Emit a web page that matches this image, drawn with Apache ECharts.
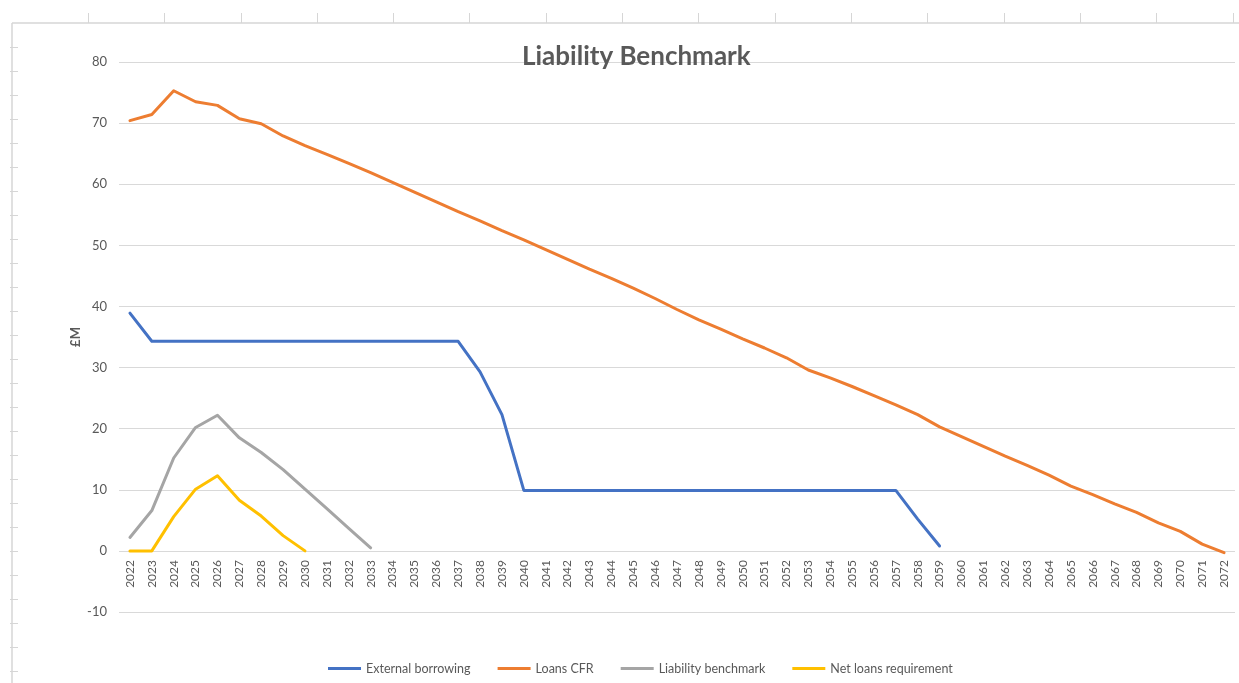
<!DOCTYPE html>
<html>
<head>
<meta charset="utf-8">
<script src="https://cdn.jsdelivr.net/npm/echarts@6/dist/echarts.min.js"></script>
<style>
html,body{margin:0;padding:0;background:#fff;}
#chart{width:1239px;height:683px;}
</style>
</head>
<body>
<div id="chart"></div>
<script>
const years = [];
for (let y = 2022; y <= 2072; y++) years.push(String(y));

const externalBorrowing = [38.9,34.3,34.3,34.3,34.3,34.3,34.3,34.3,34.3,34.3,34.3,34.3,34.3,34.3,34.3,34.3,29.3,22.3,9.9,9.9,9.9,9.9,9.9,9.9,9.9,9.9,9.9,9.9,9.9,9.9,9.9,9.9,9.9,9.9,9.9,9.9,5.2,0.8];
const loansCFR = [70.4,71.4,75.3,73.5,72.9,70.7,69.9,67.9,66.3,64.9,63.4,61.9,60.3,58.7,57.1,55.5,54.0,52.4,50.9,49.3,47.7,46.1,44.6,43.0,41.3,39.5,37.8,36.3,34.7,33.2,31.6,29.6,28.3,26.9,25.4,23.9,22.3,20.3,18.7,17.1,15.5,14.0,12.4,10.6,9.2,7.7,6.3,4.6,3.2,1.1,-0.3];
const liabilityBenchmark = [2.2,6.6,15.2,20.2,22.2,18.5,16.1,13.3,10.1,6.9,3.7,0.5];
const netLoansRequirement = [0,0,5.6,10.1,12.3,8.3,5.7,2.5,0];

const yTicks = [-10,0,10,20,30,40,50,60,70,80];

const seriesNames = ['External borrowing','Loans CFR','Liability benchmark','Net loans requirement'];
const seriesColors = ['#4472C4','#ED7D31','#A5A5A5','#FFC000'];
const seriesData = [externalBorrowing, loansCFR, liabilityBenchmark, netLoansRequirement];

// Excel sheet background decorations
const deco = [];
const gridColor = '#d6d6d6';
deco.push({type:'line', shape:{x1:12,y1:23,x2:12,y2:683}, style:{stroke:gridColor,lineWidth:1.5}, silent:true});
deco.push({type:'line', shape:{x1:12,y1:23,x2:1239,y2:23}, style:{stroke:gridColor,lineWidth:1.5}, silent:true});
for (let k = 1; k <= 16; k++) {
  const x = Math.round(11.7 + 76.3 * k) + 0.5;
  deco.push({type:'line', shape:{x1:x,y1:13,x2:x,y2:23}, style:{stroke:gridColor,lineWidth:1}, silent:true});
}
for (let k = 0; k <= 26; k++) {
  const y = Math.round(46.7 + 24 * k) + 0.5;
  deco.push({type:'line', shape:{x1:10,y1:y,x2:18,y2:y}, style:{stroke:gridColor,lineWidth:1}, silent:true});
}

const chart = echarts.init(document.getElementById('chart'), null, {renderer:'canvas'});
chart.setOption({
  animation:false,
  backgroundColor:'#ffffff',
  textStyle:{fontFamily:'Lato'},
  title:{
    text:'Liability Benchmark',
    left:517, top:39,
    textStyle:{fontFamily:'Lato', fontWeight:'bold', fontSize:26, color:'#595959'}
  },
  legend:{
    bottom:3, left:323,
    icon:'rect', itemWidth:33, itemHeight:3, itemGap:27,
    textStyle:{fontFamily:'Lato', fontSize:12.5, color:'#595959'},
    data:seriesNames
  },
  grid:{left:119, right:4, top:62, bottom:71},
  xAxis:{
    type:'category',
    data:years,
    boundaryGap:true,
    offset:-61,
    axisLine:{onZero:false, show:false},
    axisTick:{show:false},
    axisLabel:{rotate:90, fontFamily:'Lato', fontSize:12, color:'#595959', margin:9, interval:0}
  },
  yAxis:{
    type:'value',
    min:yTicks[0], max:yTicks[yTicks.length-1], interval:10,
    name:'£M', nameLocation:'middle', nameGap:37, nameRotate:90,
    nameMoveOverlap:false,
    nameTextStyle:{fontFamily:'Lato', fontWeight:'bold', fontSize:13, color:'#595959'},
    axisLine:{show:false},
    axisTick:{show:false},
    axisLabel:{fontFamily:'Lato', fontSize:13, color:'#595959', margin:12},
    splitLine:{lineStyle:{color:'#d9d9d9', width:1}}
  },
  series: seriesNames.map((n,i)=>({
    name:n, type:'line', data:seriesData[i],
    symbol:'none', showSymbol:false,
    lineStyle:{width:3, color:seriesColors[i], cap:'round', join:'round'},
    itemStyle:{color:seriesColors[i]},
    z: i===1?2:3
  })),
  graphic: deco
});
</script>
</body>
</html>
